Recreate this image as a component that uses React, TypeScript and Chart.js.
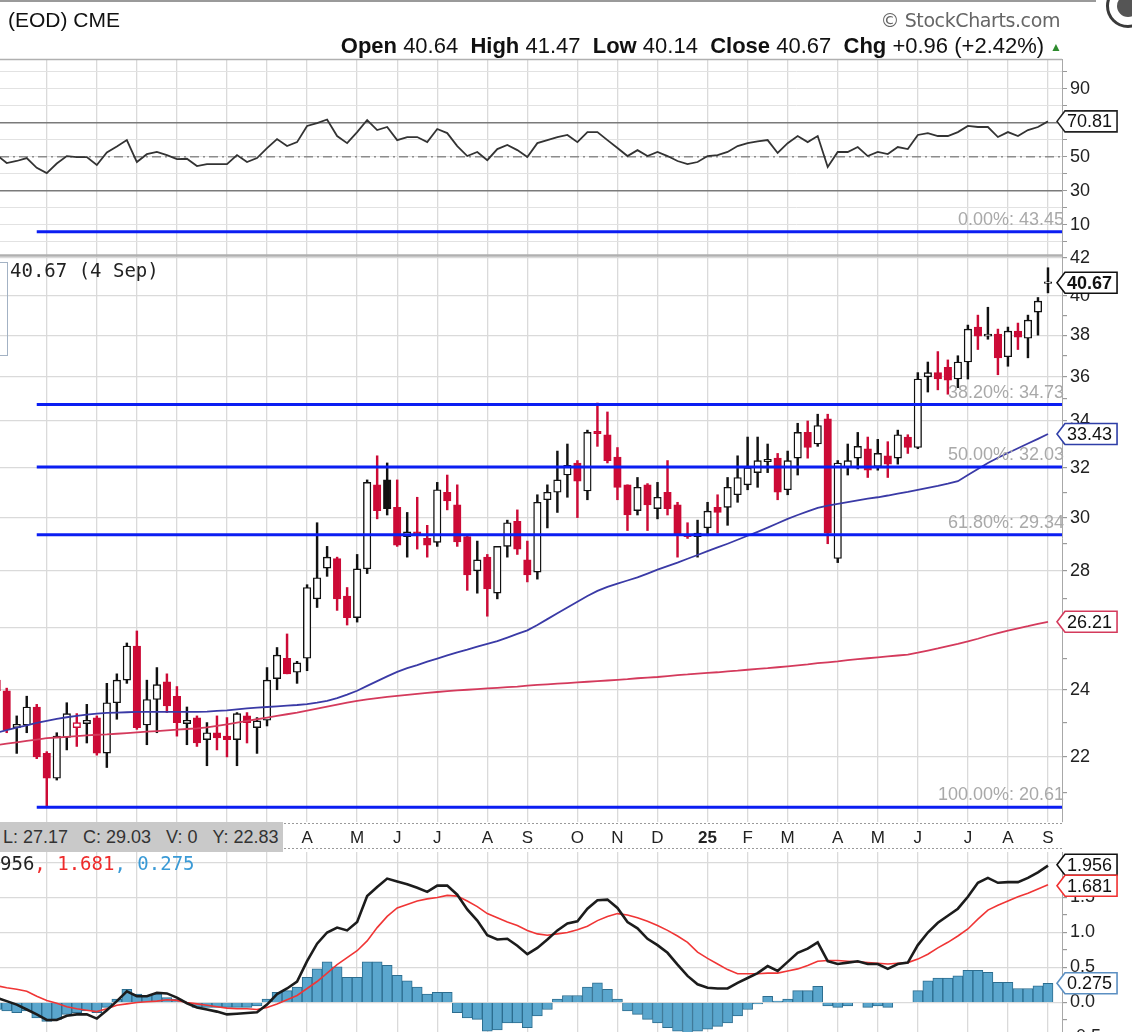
import React, { useEffect, useRef } from "react";
import { Chart, registerables } from "chart.js";

Chart.register(...registerables);

// ---------- data (weekly bars; week index 0 = week of 1 Apr 2024) ----------
const FIRST_WEEK = -31;

const OPEN = [
  24.3, 23.97, 22.85, 22.93, 23.47, 22.1, 21.4, 22.56, 22.85, 22.97,
  23.14, 22.11, 23.6, 24.3, 25.4, 22.93, 23.7, 24.25, 23.8, 22.97,
  23.14, 22.5, 22.7, 22.6, 22.5, 23.2, 22.85, 23.07, 24.35, 25.0,
  24.55, 25.0, 27.0, 28.1, 28.45, 27.1, 26.35, 28.07, 31.3, 31.5,
  30.4, 29.27, 29.45, 29.2, 29.05, 31.0, 30.5, 29.27, 28.0, 28.5,
  27.2, 28.9, 29.85, 28.4, 27.95, 30.7, 31.0, 31.7, 32.2, 31.05,
  33.55, 33.4, 32.45, 31.3, 30.27, 31.3, 30.35, 31.0, 30.5, 29.35,
  29.27, 29.6, 30.4, 30.4, 30.9, 31.3, 31.8, 32.25, 32.4, 31.1,
  32.4, 33.5, 33.0, 34.1, 28.45, 32.0, 32.4, 32.8, 32.05, 32.5,
  32.4, 33.3, 32.85, 36.0, 36.2, 36.45, 35.9, 36.7, 38.4, 37.95,
  38.05, 36.95, 38.2, 37.85, 39.15, 40.64,
];
const HIGH = [
  24.4, 24.05, 23.2, 23.8, 23.55, 22.15, 22.7, 23.6, 23.27, 23.55,
  23.2, 24.2, 24.5, 25.5, 25.9, 24.3, 24.7, 24.5, 24.1, 23.47,
  23.2, 23.0, 23.2, 23.15, 23.3, 23.3, 23.15, 24.7, 25.35, 25.8,
  24.9, 27.5, 29.8, 28.9, 28.5, 27.4, 28.6, 31.5, 32.5, 32.2,
  31.5, 30.2, 30.8, 29.7, 31.4, 31.7, 31.3, 29.3, 29.1, 28.6,
  28.9, 29.9, 30.3, 29.1, 30.9, 31.3, 32.7, 33.0, 32.3, 33.6,
  34.8, 34.4, 32.85, 31.3, 31.6, 31.35, 31.4, 32.3, 30.6, 29.8,
  29.9, 30.6, 30.9, 31.6, 32.5, 33.3, 33.3, 33.0, 32.6, 32.7,
  33.9, 34.0, 34.3, 34.3, 32.3, 33.0, 33.5, 33.3, 33.2, 33.1,
  33.6, 33.4, 36.2, 36.7, 37.2, 36.8, 37.0, 38.5, 39.0, 39.4,
  38.3, 38.4, 38.6, 39.0, 39.9, 41.47,
];
const LOW = [
  23.8, 22.7, 22.1, 22.7, 21.95, 20.61, 21.35, 22.2, 22.3, 22.4,
  22.05, 21.7, 23.1, 24.2, 22.8, 22.35, 22.7, 23.3, 22.6, 22.35,
  22.3, 21.75, 22.2, 22.0, 21.75, 22.4, 22.1, 22.9, 24.0, 24.5,
  24.2, 24.6, 26.7, 27.8, 26.6, 26.1, 26.2, 27.9, 29.95, 30.1,
  28.9, 28.5, 28.8, 28.5, 28.9, 30.3, 28.9, 27.3, 27.2, 26.4,
  27.0, 28.5, 28.6, 27.6, 27.7, 29.6, 30.2, 30.8, 30.0, 30.7,
  32.9, 32.2, 30.7, 29.5, 30.1, 29.5, 29.95, 30.1, 28.5, 29.2,
  28.5, 29.3, 29.4, 29.7, 30.6, 31.1, 31.2, 31.8, 30.7, 30.9,
  31.7, 32.4, 32.9, 29.0, 28.3, 31.7, 31.95, 31.6, 31.9, 31.6,
  32.15, 32.6, 32.8, 35.3, 35.4, 35.2, 35.5, 35.9, 37.3, 37.8,
  36.1, 36.5, 37.3, 36.9, 38.0, 40.14,
];
const CLOSE = [
  23.97, 22.79, 22.95, 23.47, 22.0, 21.4, 22.6, 23.27, 23.0, 23.07,
  22.11, 23.6, 24.3, 25.4, 22.85, 23.7, 24.16, 23.5, 23.0, 23.07,
  22.4, 22.7, 22.55, 22.5, 23.27, 23.0, 23.05, 24.3, 25.1, 24.5,
  24.85, 27.4, 27.75, 28.5, 27.0, 26.35, 28.07, 31.4, 30.27, 30.35,
  28.95, 29.45, 29.35, 28.95, 31.1, 30.65, 29.07, 27.85, 28.4, 27.35,
  28.9, 29.8, 28.8, 27.85, 30.6, 31.0, 31.5, 32.1, 31.45, 33.5,
  33.45, 32.3, 31.2, 30.1, 31.2, 30.5, 30.8, 30.35, 29.3, 29.27,
  29.4, 30.25, 30.2, 31.2, 31.6, 32.0, 32.3, 32.35, 31.0, 32.3,
  33.5, 32.85, 33.8, 29.4, 32.2, 32.3, 32.9, 31.9, 32.6, 32.15,
  33.4, 32.85, 35.9, 36.2, 35.9, 35.85, 36.7, 38.3, 37.95, 38.05,
  36.9, 38.2, 37.9, 38.75, 39.71, 40.67,
];
const MA_BLUE = [
  22.7, 22.78, 22.85, 22.92, 22.99, 23.05, 23.11, 23.16, 23.2, 23.24,
  23.27, 23.29, 23.3, 23.31, 23.32, 23.32, 23.32, 23.32, 23.32, 23.32,
  23.32, 23.33, 23.35, 23.37, 23.4, 23.43, 23.45, 23.47, 23.49, 23.51,
  23.53, 23.56, 23.6, 23.66, 23.74, 23.85, 23.97, 24.12, 24.27, 24.42,
  24.56, 24.68, 24.78, 24.89, 24.99, 25.09, 25.19, 25.28, 25.38, 25.47,
  25.56, 25.68, 25.8, 25.92, 26.1, 26.3, 26.5, 26.7, 26.9, 27.1,
  27.28, 27.42, 27.54, 27.65, 27.76, 27.9, 28.04, 28.17, 28.3, 28.44,
  28.58, 28.72, 28.86, 29.0, 29.15, 29.3, 29.45, 29.61, 29.78, 29.95,
  30.1, 30.24, 30.38, 30.47, 30.54, 30.61, 30.68, 30.75, 30.8, 30.87,
  30.95, 31.02, 31.1, 31.18, 31.26, 31.35, 31.45, 31.7, 31.95, 32.2,
  32.42, 32.62, 32.82, 33.02, 33.22, 33.43,
];
const MA_RED = [
  22.34, 22.38, 22.42, 22.46, 22.5, 22.54, 22.56, 22.58, 22.6, 22.62,
  22.64, 22.65, 22.67, 22.69, 22.71, 22.73, 22.75, 22.77, 22.79, 22.81,
  22.83, 22.86, 22.9, 22.95, 23.0, 23.05, 23.1, 23.15, 23.2, 23.25,
  23.3, 23.36, 23.42, 23.48, 23.54, 23.6, 23.66, 23.7, 23.74, 23.78,
  23.81, 23.84, 23.87, 23.9, 23.93, 23.96, 23.98, 24.0, 24.02, 24.04,
  24.06, 24.08, 24.1, 24.13, 24.15, 24.17, 24.19, 24.21, 24.23, 24.25,
  24.27, 24.29, 24.31, 24.33, 24.36, 24.38, 24.4, 24.43, 24.46, 24.48,
  24.51, 24.53, 24.55, 24.58, 24.6, 24.63, 24.66, 24.68, 24.71, 24.74,
  24.77, 24.8, 24.84, 24.87, 24.9, 24.94, 24.97, 25.0, 25.03, 25.06,
  25.09, 25.12, 25.18, 25.25, 25.32, 25.4, 25.47, 25.55, 25.64, 25.74,
  25.83, 25.91, 25.99, 26.06, 26.14, 26.21,
];
const RSI = [
  51, 46.3, 47.5, 49.2, 43.5, 40.4, 46, 50.4, 49.8, 49.8,
  45.1, 52.5, 56, 59.8, 46.9, 51.5, 52.8, 51, 48.6, 48.8,
  44.5, 45.7, 45.7, 45.7, 51, 46.9, 49.2, 55.1, 60.4, 56.3,
  58.6, 68.1, 69.8, 71.9, 62.2, 58, 64.5, 71.6, 65.7, 67.5,
  59.8, 61.6, 61.6, 58.6, 66.3, 63.9, 56.3, 50.4, 52.8, 48,
  54.5, 56.9, 53.9, 49.8, 58, 59.8, 61.6, 62.8, 58.6, 64.5,
  64.5, 59.8, 55.1, 50.4, 53.9, 50.4, 52.8, 50.4, 47.5, 45.7,
  46.9, 50.4, 51, 52.8, 56.3, 58, 59, 59.8, 52.2, 58,
  62.2, 58.6, 62.2, 44, 52.8, 52.8, 55.7, 50.4, 52.8, 51.6,
  55.7, 54.5, 62.8, 63.9, 62.2, 62.2, 64.5, 68.1, 67.5, 67.5,
  61.6, 64.5, 62.2, 65.7, 67.5, 70.81,
];
const MACD = [
  0.07, 0.02, -0.03, -0.1, -0.17, -0.25, -0.25, -0.19, -0.17, -0.17,
  -0.23, -0.11, 0.02, 0.16, 0.09, 0.09, 0.14, 0.13, 0.07, -0.01,
  -0.07, -0.1, -0.13, -0.17, -0.16, -0.15, -0.14, -0.03, 0.12, 0.2,
  0.3, 0.59, 0.84, 1.0, 1.07, 1.03, 1.15, 1.52, 1.65, 1.77,
  1.73, 1.69, 1.64, 1.58, 1.67, 1.67, 1.54, 1.33, 1.17, 0.96,
  0.9, 0.91, 0.81, 0.69, 0.78, 0.9, 1.03, 1.13, 1.16, 1.34,
  1.46, 1.47, 1.35, 1.15, 1.06, 0.91, 0.82, 0.71, 0.54, 0.38,
  0.26, 0.21, 0.2, 0.2, 0.28, 0.35, 0.42, 0.52, 0.45, 0.58,
  0.71, 0.77, 0.86, 0.59, 0.55, 0.57, 0.59, 0.55, 0.55, 0.48,
  0.55, 0.57, 0.82, 1.0, 1.14, 1.24, 1.34, 1.51, 1.71, 1.78,
  1.71, 1.72, 1.72, 1.78, 1.86, 1.956,
];
const SIGNAL = [
  0.24, 0.21, 0.19, 0.16, 0.09, 0.03, -0.01, -0.06, -0.09, -0.11,
  -0.13, -0.09, -0.04, -0.02, 0.0, 0.01, 0.02, 0.04, 0.03, 0.0,
  -0.02, -0.04, -0.06, -0.08, -0.09, -0.09, -0.1, -0.07, -0.02, 0.04,
  0.1, 0.2, 0.3, 0.42, 0.54, 0.64, 0.74, 0.88, 1.07, 1.23,
  1.35, 1.4, 1.45, 1.48, 1.5, 1.53, 1.52, 1.45, 1.37, 1.27,
  1.21, 1.15, 1.1, 1.03, 0.98, 0.96, 0.98, 1.0, 1.04, 1.09,
  1.17, 1.23, 1.27, 1.25, 1.21, 1.16, 1.1, 1.03, 0.95, 0.86,
  0.72, 0.63, 0.55, 0.47, 0.41, 0.41, 0.41, 0.42, 0.42, 0.45,
  0.48, 0.53, 0.59, 0.6, 0.6, 0.59, 0.58, 0.57, 0.56, 0.55,
  0.56, 0.57, 0.62, 0.69, 0.78, 0.86, 0.95, 1.05, 1.19, 1.32,
  1.39, 1.45, 1.51, 1.56, 1.62, 1.681,
];
const HIST = [
  -0.1, -0.12, -0.145, -0.12, -0.22, -0.27, -0.24, -0.17, -0.145, -0.12,
  -0.145, -0.07, 0.05, 0.19, 0.12, 0.1, 0.12, 0.07, 0.05, 0.0,
  -0.07, -0.07, -0.07, -0.07, -0.07, -0.07, -0.05, 0.05, 0.145, 0.17,
  0.22, 0.36, 0.48, 0.58, 0.51, 0.36, 0.36, 0.58, 0.58, 0.53,
  0.39, 0.31, 0.22, 0.12, 0.145, 0.145, -0.145, -0.22, -0.24, -0.41,
  -0.39, -0.29, -0.29, -0.36, -0.19, -0.1, 0.05, 0.1, 0.1, 0.22,
  0.28, 0.19, 0.05, -0.12, -0.17, -0.24, -0.29, -0.36, -0.41, -0.43,
  -0.41, -0.38, -0.34, -0.29, -0.19, -0.1, -0.02, 0.09, 0.02, 0.05,
  0.17, 0.17, 0.23, -0.05, -0.07, -0.05, 0.0, -0.07, -0.05, -0.07,
  0.0, 0.0, 0.17, 0.31, 0.35, 0.35, 0.38, 0.46, 0.46, 0.43,
  0.29, 0.29, 0.2, 0.2, 0.24, 0.275,
];

const FIB_LEVELS = [43.45, 34.73, 32.03, 29.34, 20.61];
const FIB_NAMES = ["0.00%", "38.20%", "50.00%", "61.80%", "100.00%"];
const FIB_START_WEEK = -27;
const RSI_LEVELS = [70, 50, 30];

const MONTH_WEEKS = [-26, -21, -17, -13, -8, -4, 0, 5, 9, 13, 18, 22, 27, 31, 35, 40, 44, 48, 53, 57, 61, 66, 70, 74];
const MONTH_LABELS = ["O", "N", "D", "24", "F", "M", "A", "M", "J", "J", "A", "S", "O", "N", "D", "25", "F", "M", "A", "M", "J", "J", "A", "S"];
const PRICE_TICKS = [21, 22, 23, 24, 25, 26, 27, 28, 29, 30, 31, 32, 33, 34, 35, 36, 37, 38, 39, 40, 41, 42];
const RSI_TICKS = [0, 10, 20, 30, 40, 50, 60, 70, 80, 90, 100];
const RSI_LABELED = [10, 30, 50, 70, 90];
const MACD_TICKS = [-0.5, -0.25, 0, 0.25, 0.5, 0.75, 1, 1.25, 1.5, 1.75, 2];

// axis ranges
const X_MIN = -30.67;
const X_MAX = 75.4;
const RSI_MIN = -7.8;
const RSI_MAX = 107.5;
const PRICE_MIN = 20.22;
const PRICE_MAX = 42.16;
const MACD_MIN = -0.707;
const MACD_MAX = 2.15;

// ---------- styling ----------
const FONT = '"Liberation Sans", Arial, Helvetica, sans-serif';
const MONO = '"DejaVu Sans Mono", "Liberation Mono", monospace';
const GRID = "#dadada";
const RED = "#cc0a36";
const BLACK = "#111111";
const FIB_BLUE = "#0b1ef2";

const WEEKS = OPEN.map((_, i) => FIRST_WEEK + i);
const last = (a: number[]) => a[a.length - 1];

function drawTag(ctx: any, x: number, y: number, text: string, border: string, bold: boolean) {
  ctx.save();
  ctx.font = `${bold ? "bold " : ""}18px ${FONT}`;
  const tw = ctx.measureText(text).width;
  const h = 21;
  const tip = 8;
  const right = x + tip + 3 + tw + 4;
  ctx.beginPath();
  ctx.moveTo(x, y);
  ctx.lineTo(x + tip, y - h / 2);
  ctx.lineTo(right, y - h / 2);
  ctx.lineTo(right, y + h / 2);
  ctx.lineTo(x + tip, y + h / 2);
  ctx.closePath();
  ctx.fillStyle = "#ffffff";
  ctx.fill();
  ctx.lineWidth = 1.6;
  ctx.strokeStyle = border;
  ctx.stroke();
  ctx.fillStyle = "#111";
  ctx.textAlign = "left";
  ctx.textBaseline = "middle";
  ctx.fillText(text, x + tip + 2, y + 1);
  ctx.restore();
}

function spreadTags(items: any[]) {
  items.sort((a, b) => a.y - b.y);
  for (let k = 0; k < 4; k++) {
    for (let i = 1; i < items.length; i++) {
      const d = 21 - (items[i].y - items[i - 1].y);
      if (d > 0) {
        items[i - 1].y -= d / 2;
        items[i].y += d / 2;
      }
    }
  }
  return items;
}

function hline(ctx: any, x1: number, x2: number, y: number) {
  ctx.beginPath();
  ctx.moveTo(x1, y);
  ctx.lineTo(x2, y);
  ctx.stroke();
}

const xGridOpts = { color: GRID, lineWidth: 1.3, drawTicks: false, offset: false };
const monthTicks = (s: any) => {
  s.ticks = MONTH_WEEKS.map((v) => ({ value: v }));
};

export default function App() {
  const c1 = useRef<HTMLCanvasElement>(null);
  const c2 = useRef<HTMLCanvasElement>(null);

  useEffect(() => {
    Chart.defaults.font.family = FONT;
    const candleColor = CLOSE.map((c, i) => ((i === 0 ? c >= OPEN[i] : c >= CLOSE[i - 1]) ? BLACK : RED));
    const bodyFill = CLOSE.map((c, i) => (c >= OPEN[i] ? "#ffffff" : candleColor[i]));
    const pts = (arr: number[]) => WEEKS.map((w, i) => ({ x: w, y: arr[i] }));

    const mainPlugin = {
      id: "mainDecor",
      afterDraw(chart: any) {
        const { ctx, chartArea } = chart;
        const yP = chart.scales.yPrice;
        const yR = chart.scales.yRSI;
        const xs = chart.scales.x;
        ctx.save();
        ctx.strokeStyle = "#b0b0b0";
        ctx.lineWidth = 1.5;
        hline(ctx, 0, chartArea.right, chartArea.top + 0.5);
        ctx.lineWidth = 2.5;
        hline(ctx, 0, chartArea.right, yP.top + 0.5);
        ctx.setLineDash([2, 2]);
        ctx.strokeStyle = "#9a9a9a";
        ctx.lineWidth = 1;
        hline(ctx, 0, chartArea.right, xs.top + 1.5);
        hline(ctx, 0, chartArea.right, xs.bottom - 3.5);
        ctx.setLineDash([]);
        // fib labels
        ctx.font = `18px ${FONT}`;
        ctx.fillStyle = "#a9a9a9";
        ctx.textAlign = "right";
        ctx.textBaseline = "bottom";
        FIB_LEVELS.forEach((v, i) => {
          ctx.fillText(`${FIB_NAMES[i]}: ${v.toFixed(2)}`, chartArea.right + 2, yP.getPixelForValue(v) - 3);
        });
        ctx.restore();
        const tx = chartArea.right - 5;
        drawTag(ctx, tx, yR.getPixelForValue(last(RSI)), last(RSI).toFixed(2), "#222", false);
        drawTag(ctx, tx, yP.getPixelForValue(last(MA_RED)), last(MA_RED).toFixed(2), "#d43a5c", false);
        drawTag(ctx, tx, yP.getPixelForValue(last(MA_BLUE)), last(MA_BLUE).toFixed(2), "#2f3fa8", false);
        drawTag(ctx, tx, yP.getPixelForValue(last(CLOSE)), last(CLOSE).toFixed(2), "#111", true);
      },
    };

    const macdPlugin = {
      id: "macdDecor",
      afterDraw(chart: any) {
        const { ctx, chartArea } = chart;
        const y = chart.scales.yMACD;
        const tags = spreadTags([
          { y: y.getPixelForValue(last(MACD)), t: last(MACD).toFixed(3), c: "#111" },
          { y: y.getPixelForValue(last(SIGNAL)), t: last(SIGNAL).toFixed(3), c: "#f03030" },
          { y: y.getPixelForValue(last(HIST)), t: last(HIST).toFixed(3), c: "#5b8fc2" },
        ]);
        tags.forEach((g) => drawTag(ctx, chartArea.right - 5, g.y, g.t, g.c, false));
      },
    };

    const levelLine = (v: number, axis: string, color: string, width: number, dash: number[], startX = X_MIN) => ({
      type: "line",
      yAxisID: axis,
      data: [
        { x: startX, y: v },
        { x: X_MAX, y: v },
      ],
      borderColor: color,
      borderWidth: width,
      borderDash: dash,
      pointRadius: 0,
      clip: false,
      order: 2,
    });

    const ch1 = new Chart(c1.current as any, {
      type: "line",
      data: {
        datasets: [
          {
            type: "line",
            yAxisID: "yRSI",
            data: pts(RSI),
            borderColor: "#333333",
            borderWidth: 1.8,
            pointRadius: 0,
            order: 1,
          },
          levelLine(RSI_LEVELS[0], "yRSI", "#7a7a7a", 1.6, []),
          levelLine(RSI_LEVELS[1], "yRSI", "#8c8c8c", 1.4, [9, 4, 2, 4]),
          levelLine(RSI_LEVELS[2], "yRSI", "#7a7a7a", 1.6, []),
          ...FIB_LEVELS.map((v) => levelLine(v, "yPrice", FIB_BLUE, 3, [], FIB_START_WEEK)),
          {
            type: "line",
            yAxisID: "yPrice",
            data: pts(MA_RED),
            borderColor: "#d43a5c",
            borderWidth: 1.8,
            pointRadius: 0,
            order: 3,
          },
          {
            type: "line",
            yAxisID: "yPrice",
            data: pts(MA_BLUE),
            borderColor: "#3a3aa6",
            borderWidth: 1.8,
            pointRadius: 0,
            order: 3,
          },
          {
            type: "bar",
            yAxisID: "yPrice",
            data: WEEKS.map((w, i) => ({ x: w, y: [LOW[i], HIGH[i]] })),
            backgroundColor: candleColor,
            borderWidth: 0,
            barThickness: 1.8,
            grouped: false,
            order: 6,
          },
          {
            type: "bar",
            yAxisID: "yPrice",
            data: WEEKS.map((w, i) => ({ x: w, y: [Math.min(OPEN[i], CLOSE[i]), Math.max(OPEN[i], CLOSE[i])] })),
            backgroundColor: bodyFill,
            borderColor: candleColor,
            borderWidth: 1.4,
            borderSkipped: false,
            barThickness: 7.5,
            minBarLength: 1.5,
            grouped: false,
            order: 5,
          },
        ] as any,
      },
      options: {
        animation: false,
        responsive: false,
        events: [],
        layout: { padding: { top: 59, left: 0, right: 0, bottom: 0 } },
        plugins: { legend: { display: false }, tooltip: { enabled: false } },
        elements: { point: { radius: 0 }, line: { tension: 0 } },
        scales: {
          x: {
            type: "linear",
            min: X_MIN,
            max: X_MAX,
            offset: false,
            afterBuildTicks: monthTicks,
            afterFit: (s: any) => {
              s.height = 30;
            },
            grid: xGridOpts,
            border: { display: false },
            ticks: {
              autoSkip: false,
              maxRotation: 0,
              padding: 6,
              color: "#222",
              callback: (v: any) => {
                const i = MONTH_WEEKS.indexOf(v);
                return i >= 0 ? MONTH_LABELS[i] : "";
              },
              font: (ctx: any) => ({
                family: FONT,
                size: 17,
                weight: MONTH_LABELS[ctx.index] === "25" ? "bold" : "normal",
              }),
            },
          },
          yRSI: {
            type: "linear",
            position: "right",
            stack: "main",
            stackWeight: 196,
            min: RSI_MIN,
            max: RSI_MAX,
            afterBuildTicks: (s: any) => {
              s.ticks = RSI_TICKS.map((v) => ({ value: v }));
            },
            afterFit: (s: any) => {
              s.width = 70;
            },
            grid: { color: "#e2e2e2", lineWidth: 1, tickLength: 5, tickColor: "#9a9a9a" },
            border: { color: "#a8a8a8", width: 1 },
            ticks: {
              autoSkip: false,
              padding: 3,
              color: "#222",
              font: { family: FONT, size: 18 },
              callback: (v: any) => (RSI_LABELED.includes(v) ? String(v) : ""),
            },
          },
          yPrice: {
            type: "logarithmic",
            position: "right",
            stack: "main",
            stackWeight: 567,
            min: PRICE_MIN,
            max: PRICE_MAX,
            afterBuildTicks: (s: any) => {
              s.ticks = PRICE_TICKS.map((v) => ({ value: v }));
            },
            afterFit: (s: any) => {
              s.width = 70;
            },
            grid: {
              color: (ctx: any) => (ctx.tick && ctx.tick.value % 2 === 0 ? GRID : "rgba(0,0,0,0)"),
              lineWidth: 1.2,
              tickLength: 5,
              tickColor: "#9a9a9a",
            },
            border: { color: "#a8a8a8", width: 1 },
            ticks: {
              autoSkip: false,
              padding: 3,
              color: "#222",
              font: { family: FONT, size: 18 },
              callback: (v: any) => (v % 2 === 0 ? String(v) : ""),
            },
          },
        },
      } as any,
      plugins: [mainPlugin],
    });

    const ch2 = new Chart(c2.current as any, {
      type: "line",
      data: {
        datasets: [
          {
            type: "line",
            yAxisID: "yMACD",
            data: pts(MACD),
            borderColor: "#1c1c1c",
            borderWidth: 2.6,
            pointRadius: 0,
            order: 1,
          },
          {
            type: "line",
            yAxisID: "yMACD",
            data: pts(SIGNAL),
            borderColor: "#f03535",
            borderWidth: 1.6,
            pointRadius: 0,
            order: 2,
          },
          {
            type: "bar",
            yAxisID: "yMACD",
            data: pts(HIST),
            backgroundColor: "#5aa6cd",
            borderColor: "#2c6d8f",
            borderWidth: 1,
            barThickness: 10,
            grouped: false,
            order: 5,
          },
        ] as any,
      },
      options: {
        animation: false,
        responsive: false,
        events: [],
        layout: { padding: { top: 20, bottom: 15, left: 0, right: 0 } },
        plugins: { legend: { display: false }, tooltip: { enabled: false } },
        elements: { point: { radius: 0 }, line: { tension: 0 } },
        scales: {
          x: {
            type: "linear",
            min: X_MIN,
            max: X_MAX,
            offset: false,
            afterBuildTicks: monthTicks,
            afterFit: (s: any) => {
              s.height = 0;
            },
            grid: xGridOpts,
            border: { display: false },
            ticks: { display: false },
          },
          yMACD: {
            type: "linear",
            position: "right",
            min: MACD_MIN,
            max: MACD_MAX,
            afterBuildTicks: (s: any) => {
              s.ticks = MACD_TICKS.map((v) => ({ value: v }));
            },
            afterFit: (s: any) => {
              s.width = 70;
            },
            grid: {
              color: (ctx: any) => (ctx.tick && Number.isInteger(ctx.tick.value * 2) ? GRID : "rgba(0,0,0,0)"),
              lineWidth: 1.2,
              tickLength: 5,
              tickColor: "#9a9a9a",
            },
            border: { color: "#a8a8a8", width: 1 },
            ticks: {
              autoSkip: false,
              padding: 3,
              color: "#222",
              font: { family: FONT, size: 18 },
              callback: (v: any) => (Number.isInteger(v * 2) ? Number(v).toFixed(1) : ""),
            },
          },
        },
      } as any,
      plugins: [macdPlugin],
    });

    return () => {
      ch1.destroy();
      ch2.destroy();
    };
  }, []);

  const n = CLOSE.length;
  const chg = CLOSE[n - 1] - CLOSE[n - 2];
  const pct = (chg / CLOSE[n - 2]) * 100;
  const sign = (v: number) => (v >= 0 ? "+" : "");

  return (
    <div
      style={{
        position: "absolute",
        left: 0,
        top: 0,
        width: 1132,
        height: 1032,
        overflow: "hidden",
        background: "#fff",
        fontFamily: FONT,
        color: "#111",
      }}
    >
      <canvas ref={c1} width={1132} height={852} style={{ position: "absolute", left: 0, top: 0 }} />
      <canvas ref={c2} width={1132} height={235} style={{ position: "absolute", left: 0, top: 832 }} />

      {/* top frame line and corner icon */}
      <div style={{ position: "absolute", left: 0, top: 0, width: 1096, height: 2, background: "#9a9a9a" }} />
      <div
        style={{
          position: "absolute",
          left: 1106,
          top: -16,
          width: 38,
          height: 38,
          borderRadius: "50%",
          border: "3px solid #3a3a3a",
          background: "#fff",
        }}
      >
        <div
          style={{
            position: "absolute",
            left: 8,
            top: 8,
            width: 22,
            height: 22,
            borderRadius: "50%",
            background: "#555",
          }}
        />
      </div>

      {/* header */}
      <div style={{ position: "absolute", left: 8, top: 8, fontSize: 21, lineHeight: "24px", whiteSpace: "nowrap" }}>
        (EOD) CME
      </div>
      <div
        style={{
          position: "absolute",
          right: 72,
          top: 8,
          fontSize: 19,
          lineHeight: "24px",
          color: "#666",
          fontFamily: '"DejaVu Sans", sans-serif',
          letterSpacing: "-0.4px",
          whiteSpace: "nowrap",
        }}
      >
        © StockCharts.com
      </div>
      <div
        style={{
          position: "absolute",
          right: 70,
          top: 34,
          fontSize: 22,
          lineHeight: "24px",
          whiteSpace: "nowrap",
          color: "#111",
        }}
      >
        <b>Open</b> {OPEN[n - 1].toFixed(2)}&nbsp; <b>High</b> {HIGH[n - 1].toFixed(2)}&nbsp; <b>Low</b>{" "}
        {LOW[n - 1].toFixed(2)}&nbsp; <b>Close</b> {CLOSE[n - 1].toFixed(2)}&nbsp; <b>Chg</b> {sign(chg)}
        {chg.toFixed(2)} ({sign(pct)}
        {pct.toFixed(2)}%)
        <span style={{ color: "#2e8b2e", fontSize: 12, marginLeft: 6, verticalAlign: "middle" }}>▲</span>
      </div>

      {/* price legend */}
      <div
        style={{
          position: "absolute",
          left: -60,
          top: 262,
          width: 66,
          height: 92,
          border: "1.5px solid #a3b2c4",
        }}
      />
      <div
        style={{
          position: "absolute",
          left: 10,
          top: 259,
          fontFamily: MONO,
          fontSize: 19,
          lineHeight: "22px",
          color: "#222",
          whiteSpace: "nowrap",
        }}
      >
        {CLOSE[n - 1].toFixed(2)} (4 Sep)
      </div>

      {/* data readout box over the date axis */}
      <div
        style={{
          position: "absolute",
          left: 0,
          top: 822,
          width: 283,
          height: 30,
          background: "#c9c9c9",
          display: "flex",
          alignItems: "center",
          gap: 15,
          paddingLeft: 3,
          boxSizing: "border-box",
          fontSize: 18,
          color: "#333",
          whiteSpace: "nowrap",
        }}
      >
        <span>L: 27.17</span>
        <span>C: 29.03</span>
        <span>V: 0</span>
        <span>Y: 22.83</span>
      </div>

      {/* MACD legend */}
      <div
        style={{
          position: "absolute",
          left: 0,
          top: 852,
          fontFamily: MONO,
          fontSize: 19,
          lineHeight: "22px",
          whiteSpace: "nowrap",
        }}
      >
        <span style={{ color: "#222" }}>956</span>
        <span style={{ color: "#ee2a2a" }}>, {last(SIGNAL).toFixed(3)}</span>
        <span style={{ color: "#3a9ad6" }}>, {last(HIST).toFixed(3)}</span>
      </div>
    </div>
  );
}
